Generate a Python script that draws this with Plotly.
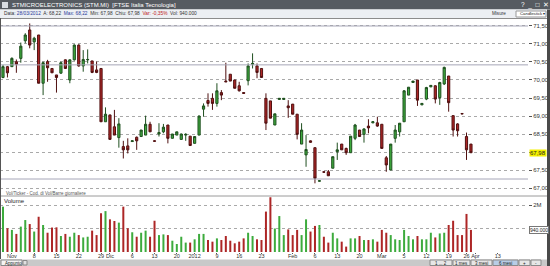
import plotly.graph_objects as go

W, H = 550, 266

# ---------------- data ----------------
open_ = [70.07, 70.37, 70.37, 70.51, 70.60, 71.09, 71.39, 71.06, 71.25, 69.91,
         70.51, 70.32, 70.14, 70.19, 70.56, 70.00, 70.56, 70.97, 70.39, 70.56,
         70.53, 70.28, 70.32, 68.84, 69.03, 68.70, 68.40, 68.15, 68.17, 68.29,
         68.41, 68.43, 68.47, 68.77, 68.31, 68.50, 68.56, 68.75, 68.38, 68.47,
         68.35, 68.47, 68.44, 68.24, 68.47, 69.19, 69.43, 69.49, 69.35, 69.65,
         69.97, 70.16, 70.00, 69.84, 69.65, 69.98, 70.44, 70.39, 70.32, 69.49,
         69.42, 68.75, 69.46, 69.46, 69.28, 69.33, 69.05, 68.22, 67.92, 68.31,
         68.12, 67.19, 67.45, 67.45, 67.55, 68.01, 68.22, 68.10, 67.98, 68.38,
         68.61, 68.49, 68.72, 68.81, 68.81, 68.77, 67.84, 67.50, 68.38, 68.56,
         68.84, 69.58, 69.93, 70.00, 69.31, 69.47, 69.81, 69.84, 69.51, 69.89,
         70.11, 69.01, 68.78, 69.07, 68.43, 68.22]
high = [70.42, 70.39, 70.63, 70.57, 71.04, 71.30, 71.57, 71.20, 71.25, 70.51,
        70.56, 70.32, 70.14, 70.51, 70.57, 70.57, 70.99, 70.99, 70.83, 70.85,
        70.53, 70.51, 70.32, 69.24, 69.03, 69.17, 68.94, 68.31, 68.38, 68.32,
        68.43, 68.61, 69.01, 68.84, 68.32, 68.80, 68.78, 68.75, 68.50, 68.56,
        68.51, 68.52, 68.44, 68.43, 69.01, 69.35, 69.63, 69.63, 69.91, 69.72,
        70.48, 70.16, 70.00, 69.95, 69.66, 70.46, 70.74, 70.46, 70.32, 69.63,
        69.42, 69.06, 69.50, 69.50, 69.44, 69.33, 69.05, 68.80, 68.47, 68.32,
        68.12, 67.21, 67.46, 67.50, 67.87, 68.26, 68.22, 68.12, 68.44, 68.78,
        68.61, 68.66, 68.91, 68.85, 68.98, 68.77, 67.89, 68.22, 68.75, 68.80,
        69.72, 69.80, 69.97, 70.00, 69.36, 69.81, 69.86, 69.85, 69.95, 70.37,
        70.11, 69.01, 68.80, 69.08, 68.54, 68.22]
low = [70.05, 70.07, 70.37, 70.20, 70.48, 71.02, 70.88, 70.83, 69.91, 69.58,
       69.95, 70.20, 69.65, 70.17, 70.31, 69.91, 70.54, 70.37, 70.23, 70.46,
       70.19, 70.19, 68.84, 68.84, 68.35, 68.47, 68.12, 67.82, 67.96, 68.28,
       68.06, 68.43, 68.47, 68.56, 68.29, 68.43, 68.52, 68.24, 68.38, 68.47,
       68.34, 68.31, 68.18, 68.24, 68.47, 68.98, 69.26, 69.17, 69.26, 69.44,
       69.95, 69.97, 69.77, 69.68, 69.62, 69.85, 70.32, 70.05, 70.07, 68.61,
       68.94, 68.75, 69.45, 69.45, 68.95, 69.05, 68.35, 68.22, 67.59, 68.26,
       67.13, 67.18, 67.43, 67.34, 67.55, 67.78, 68.06, 67.92, 67.98, 68.33,
       68.43, 68.26, 68.52, 68.80, 68.70, 68.10, 67.45, 67.50, 68.26, 68.43,
       68.84, 69.58, 69.93, 69.28, 69.30, 69.44, 69.80, 69.35, 69.31, 69.86,
       69.12, 68.43, 68.43, 69.05, 67.78, 67.98]
close = [70.37, 70.20, 70.60, 70.44, 70.94, 71.25, 70.97, 71.16, 69.91, 70.48,
         70.34, 70.20, 70.07, 70.48, 70.32, 70.56, 70.97, 70.39, 70.57, 70.57,
         70.21, 70.21, 68.84, 69.05, 68.35, 68.47, 68.78, 68.06, 68.06, 68.31,
         68.31, 68.61, 68.77, 68.56, 68.30, 68.54, 68.69, 68.38, 68.50, 68.56,
         68.50, 68.49, 68.18, 68.43, 69.00, 69.28, 69.35, 69.35, 69.70, 69.58,
         69.95, 69.97, 69.77, 69.70, 69.63, 70.39, 70.46, 70.21, 70.07, 68.80,
         68.94, 69.06, 69.49, 69.49, 69.23, 69.05, 68.49, 68.61, 68.07, 68.27,
         67.27, 67.20, 67.44, 67.34, 67.87, 68.06, 68.06, 67.98, 68.44, 68.75,
         68.43, 68.64, 68.67, 68.84, 68.72, 68.10, 67.64, 68.22, 68.61, 68.80,
         69.70, 69.80, 69.97, 69.44, 69.35, 69.79, 69.85, 69.47, 69.93, 70.35,
         69.37, 68.61, 68.59, 69.06, 68.06, 67.98]
volume_m = [1.93, 1.01, 0.94, 0.77, 1.08, 1.36, 1.19, 0.87, 1.50, 1.15,
            0.82, 1.04, 1.05, 0.68, 0.77, 0.65, 0.82, 0.72, 0.62, 0.65,
            0.91, 0.72, 1.65, 1.74, 1.39, 1.32, 1.25, 1.93, 1.01, 0.84,
            0.65, 0.82, 0.91, 0.65, 1.33, 0.72, 0.75, 0.72, 0.48, 0.34,
            0.65, 0.40, 0.40, 0.54, 0.77, 0.77, 0.51, 0.44, 0.58, 0.51,
            0.68, 0.48, 0.37, 0.44, 0.58, 0.82, 0.68, 0.54, 0.51, 1.72,
            2.33, 1.00, 1.53, 0.72, 0.96, 0.72, 0.94, 0.72, 1.39, 0.87,
            1.11, 1.15, 0.65, 0.40, 0.82, 0.58, 0.44, 0.23, 0.58, 0.58,
            0.68, 0.51, 0.51, 0.54, 0.44, 0.94, 0.82, 0.72, 0.54, 0.51,
            0.94, 0.68, 0.54, 0.68, 0.54, 0.54, 0.82, 0.62, 0.79, 0.82,
            1.15, 1.33, 0.72, 0.72, 1.62, 0.94]

date_tick_pos = [2, 7, 12, 17, 22, 24, 29, 34, 39, 43, 48, 53, 58, 65, 70, 75, 80,
                 85, 90, 95, 100, 104, 106, 111]
date_tick_text = ["Nov", "8", "15", "22", "29", "Dic", "6", "13", "20", "2012", "9",
                  "16", "23", "Feb", "6", "13", "20", "Mar", "5", "12", "19", "26",
                  "Apr", "13"]
price_ticks = [67.0, 67.5, 68.0, 68.5, 69.0, 69.5, 70.0, 70.5, 71.0, 71.5]
price_levels = [71.50, 70.42, 67.25]
volume_ticks = [1.0, 2.0]
volume_tick_text = ["", "2M"]   # the 1M level carries the boxed last-volume label

# ---------------- helpers for pixel -> paper ----------------
def PX(p):
    return p / W


def PY(p):
    return 1 - p / H


n = len(close)
idx = list(range(n))
GREEN, RED = "#3dab3d", "#ad2626"
vcolors = [GREEN if c >= o else RED for o, c in zip(open_, close)]

XR = [-0.67, 117.8]
XD = [0, PX(528)]
FONT = "Liberation Sans, Arial, sans-serif"

last_close_txt = f"{close[-1]:.2f}".replace(".", ",")
price_tick_text = [("" if abs(v - close[-1]) < 0.12 else f"{v:.2f}".replace(".", ","))
                   for v in price_ticks]

fig = go.Figure()
fig.add_trace(go.Candlestick(
    x=idx, open=open_, high=high, low=low, close=close,
    xaxis="x", yaxis="y", whiskerwidth=0,
    increasing=dict(fillcolor=GREEN, line=dict(color="#1f4f1f", width=1)),
    decreasing=dict(fillcolor=RED, line=dict(color="#4f1010", width=1)),
    showlegend=False, hoverinfo="skip"))
fig.add_trace(go.Bar(
    x=idx, y=volume_m, xaxis="x2", yaxis="y2", width=0.45,
    marker=dict(color=vcolors, line=dict(width=0)),
    showlegend=False, hoverinfo="skip"))

tf = dict(family=FONT, size=6, color="#333333")

fig.update_layout(
    width=W, height=H, margin=dict(l=0, r=0, t=0, b=0),
    paper_bgcolor="white", plot_bgcolor="white", showlegend=False,
    xaxis=dict(domain=XD, range=XR, anchor="y", showticklabels=False,
               showgrid=False, zeroline=False, rangeslider=dict(visible=False),
               fixedrange=True),
    yaxis=dict(domain=[PY(191), PY(19)], range=[66.917, 71.694], side="right",
               anchor="x", tickvals=price_ticks, ticktext=price_tick_text,
               tickfont=tf, ticks="outside", ticklen=3, tickcolor="#555",
               showgrid=True, gridcolor="#a9a9a9", griddash="dot", gridwidth=1,
               zeroline=False, automargin=False),
    xaxis2=dict(domain=XD, range=XR, anchor="y2", tickvals=date_tick_pos,
                ticktext=date_tick_text, tickfont=dict(family=FONT, size=5.5, color="#333"),
                ticks="outside", ticklen=1, ticklabelstandoff=-3,
                tickcolor="#555", showgrid=False, zeroline=False, tickangle=0,
                automargin=False),
    yaxis2=dict(domain=[PY(252), PY(196)], range=[0, 2.383], side="right",
                anchor="x2", tickvals=volume_ticks, ticktext=volume_tick_text,
                tickfont=tf, ticks="outside", ticklen=3, tickcolor="#555",
                showgrid=True, gridcolor="#a9a9a9", griddash="dot", gridwidth=1,
                zeroline=False, automargin=False),
)

shapes = []
# horizontal level lines in price pane
for lv in price_levels:
    shapes.append(dict(type="line", xref="paper", yref="y", x0=0, x1=XD[1],
                       y0=lv, y1=lv, line=dict(color="#a6a6b8", width=1)))
# window chrome
shapes += [
    dict(type="rect", xref="paper", yref="paper", x0=0, x1=1, y0=PY(9.5), y1=1,
         fillcolor="#565b61", line=dict(width=0), layer="above"),
    dict(type="rect", xref="paper", yref="paper", x0=PX(2), x1=PX(8), y0=PY(8), y1=PY(2),
         fillcolor="#d9dde2", line=dict(width=0), layer="above"),
    dict(type="rect", xref="paper", yref="paper", x0=0, x1=1, y0=PY(18), y1=PY(9.5),
         fillcolor="#eceff3", line=dict(width=0), layer="above"),
    dict(type="line", xref="paper", yref="paper", x0=0, x1=1, y0=PY(18.5), y1=PY(18.5),
         line=dict(color="#8c8c8c", width=1), layer="above"),
    dict(type="rect", xref="paper", yref="paper", x0=PX(516), x1=PX(546), y0=PY(17), y1=PY(11),
         fillcolor="white", line=dict(color="#999", width=1), layer="above"),
    # separator between panes
    dict(type="line", xref="paper", yref="paper", x0=0, x1=PX(547), y0=PY(196), y1=PY(196),
         line=dict(color="#9a9a9a", width=1), layer="above"),
    # status bar
    dict(type="rect", xref="paper", yref="paper", x0=0, x1=1, y0=0, y1=PY(259.5),
         fillcolor="#c9c9c9", line=dict(width=0), layer="above"),
    dict(type="rect", xref="paper", yref="paper", x0=PX(1), x1=PX(22), y0=PY(265.5), y1=PY(260),
         fillcolor="#f4f4f4", line=dict(color="#888", width=1), layer="above"),
    dict(type="rect", xref="paper", yref="paper", x0=PX(23), x1=PX(27), y0=PY(265), y1=PY(260.5),
         fillcolor="#e0e0e0", line=dict(color="#888", width=1), layer="above"),
    # left and right frame
    dict(type="line", xref="paper", yref="paper", x0=PX(0.5), x1=PX(0.5), y0=PY(259), y1=PY(18),
         line=dict(color="#555", width=1), layer="above"),
    dict(type="rect", xref="paper", yref="paper", x0=PX(547), x1=1, y0=0, y1=PY(9.5),
         fillcolor="#4a4a4a", line=dict(width=0), layer="above"),
]
for x0, x1, fc in [(430, 452, "#e6e6e6"), (453, 470, "#e6e6e6"), (471, 492, "#e6e6e6"),
                   (493, 518, "#b8cde6"), (519, 530, "#e6e6e6"), (531, 541, "#e6e6e6")]:
    shapes.append(dict(type="rect", xref="paper", yref="paper", x0=PX(x0), x1=PX(x1),
                       y0=PY(265.5), y1=PY(260), fillcolor=fc,
                       line=dict(color="#8a8a8a", width=1), layer="above"))

ann = []


def txt(x, y, s, size=5.5, color="#333", xanchor="left", **kw):
    ann.append(dict(xref="paper", yref="paper", x=PX(x), y=PY(y), text=s, showarrow=False,
                    xanchor=xanchor, yanchor="middle",
                    font=dict(family=FONT, size=size, color=color), **kw))


txt(10, 4.8, "STMICROELECTRONICS (STM.MI)  [FTSE Italia Tecnologia]", 6, "white")
txt(519, 4.8, "?  _  □  ✕", 6.5, "white")
txt(2, 13.8, "Data: <span style='color:#2a3a9a'>28/03/2012</span>  A: 68,22  "
              "<span style='color:#2a3a9a'>Max: 68,22</span>  Min: 67,98  Chiu: 67,98  "
              "<span style='color:#c02020'>Var: -0,35%</span>  Vol: 940.000", 4.8, "#333")
txt(490, 13.8, "Misure", 4.6, "#333")
txt(517.5, 13.8, "Candlestick ▾", 4.3, "#222")
txt(4, 193, "Vol/Ticker - Cod. di Vol/Barre giornaliere", 4.5, "#555")
txt(2, 200.5, "Volume", 6, "#222")
txt(2.5, 263, "Appunto", 4.5, "#222")
for x, s in [(441, "1 ... 2"), (461.5, "1 mes"), (481.5, "3 mesi"), (505.5, "6 mesi"),
             (524.5, "+"), (536, "-")]:
    txt(x, 263, s, 4.5, "#222", xanchor="center")

# last price (yellow) and last volume (boxed) labels
ann.append(dict(xref="paper", yref="y", x=PX(529), y=close[-1],
                text=last_close_txt, showarrow=False,
                xanchor="left", yanchor="middle", bgcolor="#f4f000", borderpad=0,
                font=dict(family=FONT, size=6, color="#222")))
ann.append(dict(xref="paper", yref="y2", x=PX(529), y=volume_m[-1],
                text=f"{volume_m[-1]*1e6:,.0f}".replace(",", "."), showarrow=False,
                xanchor="left", yanchor="middle", bgcolor="white", bordercolor="#777",
                borderwidth=1, borderpad=0,
                font=dict(family=FONT, size=5, color="#222")))

fig.update_layout(shapes=shapes, annotations=ann)
fig.write_html("out.html")
